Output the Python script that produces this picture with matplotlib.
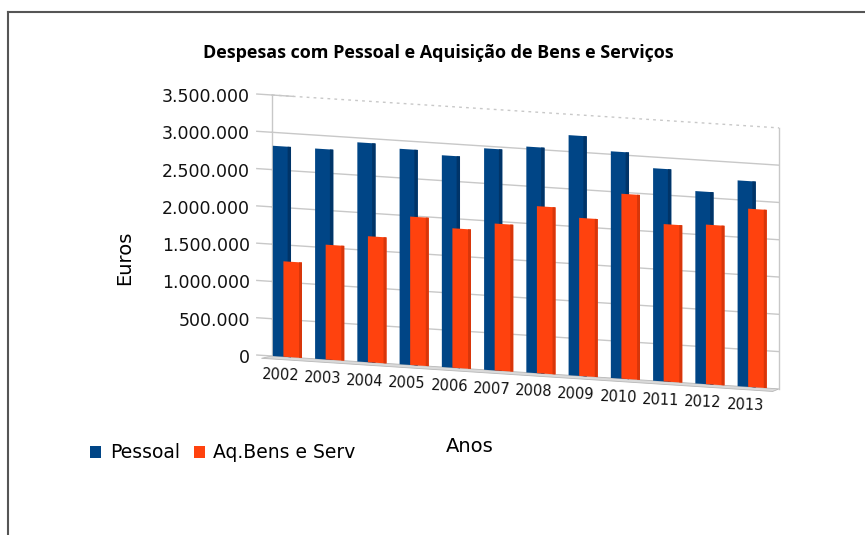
import numpy as np
import matplotlib
matplotlib.use("Agg")
import matplotlib.pyplot as plt
from matplotlib.transforms import Affine2D
from matplotlib.patches import Rectangle, Polygon
from matplotlib.lines import Line2D

# ---- data ----
years = ["2002", "2003", "2004", "2005", "2006", "2007",
         "2008", "2009", "2010", "2011", "2012", "2013"]
pessoal = [2820000, 2820000, 2940000, 2890000, 2840000, 2970000,
           3030000, 3220000, 3040000, 2850000, 2580000, 2760000]
aq_bens = [1280000, 1540000, 1690000, 1990000, 1870000, 1970000,
           2240000, 2120000, 2480000, 2110000, 2140000, 2390000]
series_names = ["Pessoal", "Aq.Bens e Serv"]
yticks = [0, 500000, 1000000, 1500000, 2000000, 2500000, 3000000, 3500000]
ytick_labels = ["0", "500.000", "1.000.000", "1.500.000", "2.000.000",
                "2.500.000", "3.000.000", "3.500.000"]
title = "Despesas com Pessoal e Aquisição de Bens e Serviços"
xlabel = "Anos"
ylabel = "Euros"

BLUE = "#004586"
BLUE_SIDE = "#003468"
ORANGE = "#ff420e"
ORANGE_SIDE = "#d8360a"
GRID = "#c8c8c8"

W, H = 865, 535
fig = plt.figure(figsize=(W / 100, H / 100), dpi=100)
fig.patch.set_facecolor("white")

# axes placement (pixels): back wall x=272..779, zero at y=356, top (3.5M) at y=95
ax = fig.add_axes([272 / W, (H - 356) / H, 507 / W, 261 / H])
ax.set_xlim(0, len(years))
ax.set_ylim(0, 3500000)
ax.set_facecolor("none")
for s in ax.spines.values():
    s.set_visible(False)

# oblique (skew) transform: y drops as x increases
k = 0.126
skew = Affine2D(np.array([[1, 0, 0], [-k, 1, 0], [0, 0, 1]]))
trans = ax.transScale + ax.transLimits + skew + ax.transAxes

n = len(years)
ymax = yticks[-1]

# back wall gridlines
for t in yticks[1:-1]:
    ax.add_line(Line2D([0, n], [t, t], color=GRID, lw=1.0, transform=trans, clip_on=False))
ax.add_line(Line2D([0, n], [ymax, ymax], color=GRID, lw=1.0, ls=(0, (2, 3)),
                   transform=trans, clip_on=False))
ax.add_line(Line2D([0, 0.5], [ymax, ymax], color=GRID, lw=1.0, transform=trans, clip_on=False))
# wall edges
ax.add_line(Line2D([0, 0], [0, ymax], color=GRID, lw=1.0, transform=trans, clip_on=False))
ax.add_line(Line2D([n, n], [0, ymax], color=GRID, lw=1.0, transform=trans, clip_on=False))
# tick marks
for t in yticks:
    ax.add_line(Line2D([-0.36, 0], [t, t], color=GRID, lw=1.0, transform=trans, clip_on=False))

# floor slab
floor = Polygon([(0, 0), (n, 0), (n - 0.15, -40000), (-0.25, -40000)],
                closed=True, facecolor="#dadada", edgecolor="#b8b8b8", lw=0.6,
                transform=trans, clip_on=False, zorder=1)
ax.add_patch(floor)

x = np.arange(n)
bw_b = 0.43
bw_o = 0.44
bars_b = ax.bar(x + 0.02, pessoal, width=bw_b, align="edge", color=BLUE,
                label=series_names[0], zorder=3)
bars_o = ax.bar(x + 0.27, aq_bens, width=bw_o, align="edge", bottom=0,
                color=ORANGE, label=series_names[1], zorder=5)
for b in list(bars_b) + list(bars_o):
    b.set_transform(trans)
    b.set_clip_on(False)
# darker side shading
for xi, v in zip(x, pessoal):
    r = Rectangle((xi + 0.02 + bw_b - 0.08, 0), 0.08, v, facecolor=BLUE_SIDE,
                  edgecolor="none", transform=trans, clip_on=False, zorder=4)
    ax.add_patch(r)
for xi, v in zip(x, aq_bens):
    r = Rectangle((xi + 0.27 + bw_o - 0.07, 0), 0.07, v, facecolor=ORANGE_SIDE,
                  edgecolor="none", transform=trans, clip_on=False, zorder=6)
    ax.add_patch(r)

ax.set_xticks([])
ax.set_yticks(yticks)
ax.set_yticklabels(ytick_labels, fontsize=12.5, family="DejaVu Sans", color="#111111")
ax.tick_params(axis="y", length=0, pad=16)

# year labels along the slanted floor
for xi, yl in zip(x, years):
    ax.text(xi + 0.2, -250000, yl, transform=trans, ha="center", va="center",
            fontsize=10.5, family="DejaVu Sans", rotation=-2, color="#111111")

fig.text(438 / W, 1 - 53 / H, title, ha="center", va="center",
         fontsize=13, fontweight="bold", family="Open Sans")
fig.text(125 / W, 1 - 258 / H, ylabel, ha="center", va="center", rotation=90,
         fontsize=14, family="DejaVu Sans")
fig.text(470 / W, 1 - 447 / H, xlabel, ha="center", va="center",
         fontsize=14, family="DejaVu Sans")

leg = fig.legend(handles=[bars_b, bars_o], labels=series_names,
                 loc="center left", bbox_to_anchor=(90 / W, 1 - 453 / H),
                 ncol=2, frameon=False, handlelength=0.6,
                 handleheight=0.6, handletextpad=0.45, columnspacing=0.75,
                 borderpad=0, borderaxespad=0, prop={"family": "DejaVu Sans", "size": 13.5})

# outer frame (top and left edges)
fig.add_artist(Line2D([8 / W, 1], [1 - 12 / H, 1 - 12 / H], color="#555555", lw=1.5,
                      transform=fig.transFigure))
fig.add_artist(Line2D([8 / W, 8 / W], [1 - 12 / H, 0], color="#555555", lw=1.5,
                      transform=fig.transFigure))

fig.savefig("out.png", dpi=100)
